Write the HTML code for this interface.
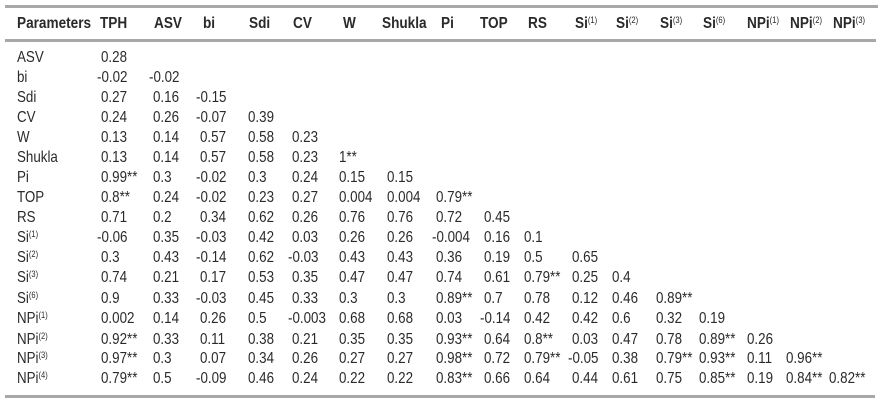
<!DOCTYPE html>
<html><head><meta charset="utf-8"><style>
body{margin:0;width:882px;height:404px;background:#fff;position:relative;overflow:hidden;font-family:"Liberation Sans Narrow","Liberation Sans",sans-serif;color:#2a2a2a;}
.rule{position:absolute;left:5px;width:871px;height:3px;background:#a7a7ad;}
.h{position:absolute;top:14px;font-weight:bold;font-size:16px;line-height:19px;transform:scaleX(0.85);transform-origin:0 0;white-space:nowrap;}
.r{position:absolute;left:0;height:20px;line-height:20px;font-size:16px;white-space:nowrap;}
.r span{position:absolute;top:0;transform:scaleX(0.835);transform-origin:0 0;}
sup{font-size:9px;vertical-align:5px;line-height:0;}
.h sup{font-weight:normal;}
</style></head><body>
<div class="rule" style="top:5px;width:873px"></div>
<div class="rule" style="top:39px"></div>
<div class="rule" style="top:395px;width:870px"></div>

<div class="h" style="left:17px">Parameters</div>
<div class="h" style="left:100px">TPH</div>
<div class="h" style="left:154px">ASV</div>
<div class="h" style="left:203px">bi</div>
<div class="h" style="left:249px">Sdi</div>
<div class="h" style="left:293px">CV</div>
<div class="h" style="left:343px">W</div>
<div class="h" style="left:382px">Shukla</div>
<div class="h" style="left:441px">Pi</div>
<div class="h" style="left:480px">TOP</div>
<div class="h" style="left:528px">RS</div>
<div class="h" style="left:575px">Si<sup>(1)</sup></div>
<div class="h" style="left:616px">Si<sup>(2)</sup></div>
<div class="h" style="left:660px">Si<sup>(3)</sup></div>
<div class="h" style="left:703px">Si<sup>(6)</sup></div>
<div class="h" style="left:747px">NPi<sup>(1)</sup></div>
<div class="h" style="left:790px">NPi<sup>(2)</sup></div>
<div class="h" style="left:833px">NPi<sup>(3)</sup></div>

<div class="r" style="top:48px"><span style="left:17px">ASV</span><span style="left:101px">0.28</span></div>
<div class="r" style="top:68px"><span style="left:17px">bi</span><span style="left:97px">-0.02</span><span style="left:149px">-0.02</span></div>
<div class="r" style="top:88px"><span style="left:17px">Sdi</span><span style="left:101px">0.27</span><span style="left:153px">0.16</span><span style="left:196px">-0.15</span></div>
<div class="r" style="top:108px"><span style="left:17px">CV</span><span style="left:101px">0.24</span><span style="left:153px">0.26</span><span style="left:196px">-0.07</span><span style="left:248px">0.39</span></div>
<div class="r" style="top:128px"><span style="left:17px">W</span><span style="left:101px">0.13</span><span style="left:153px">0.14</span><span style="left:200px">0.57</span><span style="left:248px">0.58</span><span style="left:292px">0.23</span></div>
<div class="r" style="top:148px"><span style="left:17px">Shukla</span><span style="left:101px">0.13</span><span style="left:153px">0.14</span><span style="left:200px">0.57</span><span style="left:248px">0.58</span><span style="left:292px">0.23</span><span style="left:339px">1**</span></div>
<div class="r" style="top:168px"><span style="left:17px">Pi</span><span style="left:101px">0.99**</span><span style="left:153px">0.3</span><span style="left:196px">-0.02</span><span style="left:248px">0.3</span><span style="left:292px">0.24</span><span style="left:339px">0.15</span><span style="left:387px">0.15</span></div>
<div class="r" style="top:188px"><span style="left:17px">TOP</span><span style="left:101px">0.8**</span><span style="left:153px">0.24</span><span style="left:196px">-0.02</span><span style="left:248px">0.23</span><span style="left:292px">0.27</span><span style="left:339px">0.004</span><span style="left:387px">0.004</span><span style="left:436px">0.79**</span></div>
<div class="r" style="top:208px"><span style="left:17px">RS</span><span style="left:101px">0.71</span><span style="left:153px">0.2</span><span style="left:200px">0.34</span><span style="left:248px">0.62</span><span style="left:292px">0.26</span><span style="left:339px">0.76</span><span style="left:387px">0.76</span><span style="left:436px">0.72</span><span style="left:484px">0.45</span></div>
<div class="r" style="top:228px"><span style="left:17px">Si<sup>(1)</sup></span><span style="left:97px">-0.06</span><span style="left:153px">0.35</span><span style="left:196px">-0.03</span><span style="left:248px">0.42</span><span style="left:292px">0.03</span><span style="left:339px">0.26</span><span style="left:387px">0.26</span><span style="left:432px">-0.004</span><span style="left:484px">0.16</span><span style="left:524px">0.1</span></div>
<div class="r" style="top:248px"><span style="left:17px">Si<sup>(2)</sup></span><span style="left:101px">0.3</span><span style="left:153px">0.43</span><span style="left:196px">-0.14</span><span style="left:248px">0.62</span><span style="left:288px">-0.03</span><span style="left:339px">0.43</span><span style="left:387px">0.43</span><span style="left:436px">0.36</span><span style="left:484px">0.19</span><span style="left:524px">0.5</span><span style="left:572px">0.65</span></div>
<div class="r" style="top:268px"><span style="left:17px">Si<sup>(3)</sup></span><span style="left:101px">0.74</span><span style="left:153px">0.21</span><span style="left:200px">0.17</span><span style="left:248px">0.53</span><span style="left:292px">0.35</span><span style="left:339px">0.47</span><span style="left:387px">0.47</span><span style="left:436px">0.74</span><span style="left:484px">0.61</span><span style="left:524px">0.79**</span><span style="left:572px">0.25</span><span style="left:612px">0.4</span></div>
<div class="r" style="top:289px"><span style="left:17px">Si<sup>(6)</sup></span><span style="left:101px">0.9</span><span style="left:153px">0.33</span><span style="left:196px">-0.03</span><span style="left:248px">0.45</span><span style="left:292px">0.33</span><span style="left:339px">0.3</span><span style="left:387px">0.3</span><span style="left:436px">0.89**</span><span style="left:484px">0.7</span><span style="left:524px">0.78</span><span style="left:572px">0.12</span><span style="left:612px">0.46</span><span style="left:656px">0.89**</span></div>
<div class="r" style="top:309px"><span style="left:17px">NPi<sup>(1)</sup></span><span style="left:101px">0.002</span><span style="left:153px">0.14</span><span style="left:200px">0.26</span><span style="left:248px">0.5</span><span style="left:288px">-0.003</span><span style="left:339px">0.68</span><span style="left:387px">0.68</span><span style="left:436px">0.03</span><span style="left:480px">-0.14</span><span style="left:524px">0.42</span><span style="left:572px">0.42</span><span style="left:612px">0.6</span><span style="left:656px">0.32</span><span style="left:699px">0.19</span></div>
<div class="r" style="top:330px"><span style="left:17px">NPi<sup>(2)</sup></span><span style="left:101px">0.92**</span><span style="left:153px">0.33</span><span style="left:200px">0.11</span><span style="left:248px">0.38</span><span style="left:292px">0.21</span><span style="left:339px">0.35</span><span style="left:387px">0.35</span><span style="left:436px">0.93**</span><span style="left:484px">0.64</span><span style="left:524px">0.8**</span><span style="left:572px">0.03</span><span style="left:612px">0.47</span><span style="left:656px">0.78</span><span style="left:699px">0.89**</span><span style="left:747px">0.26</span></div>
<div class="r" style="top:349px"><span style="left:17px">NPi<sup>(3)</sup></span><span style="left:101px">0.97**</span><span style="left:153px">0.3</span><span style="left:200px">0.07</span><span style="left:248px">0.34</span><span style="left:292px">0.26</span><span style="left:339px">0.27</span><span style="left:387px">0.27</span><span style="left:436px">0.98**</span><span style="left:484px">0.72</span><span style="left:524px">0.79**</span><span style="left:568px">-0.05</span><span style="left:612px">0.38</span><span style="left:656px">0.79**</span><span style="left:699px">0.93**</span><span style="left:747px">0.11</span><span style="left:786px">0.96**</span></div>
<div class="r" style="top:369px"><span style="left:17px">NPi<sup>(4)</sup></span><span style="left:101px">0.79**</span><span style="left:153px">0.5</span><span style="left:196px">-0.09</span><span style="left:248px">0.46</span><span style="left:292px">0.24</span><span style="left:339px">0.22</span><span style="left:387px">0.22</span><span style="left:436px">0.83**</span><span style="left:484px">0.66</span><span style="left:524px">0.64</span><span style="left:572px">0.44</span><span style="left:612px">0.61</span><span style="left:656px">0.75</span><span style="left:699px">0.85**</span><span style="left:747px">0.19</span><span style="left:786px">0.84**</span><span style="left:829px">0.82**</span></div>
</body></html>
